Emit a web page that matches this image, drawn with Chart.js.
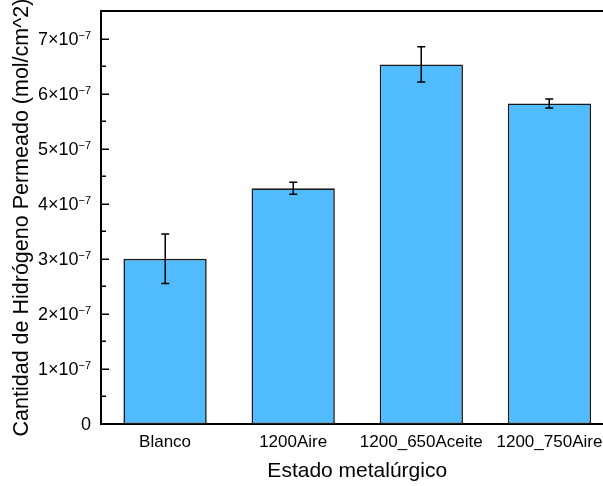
<!DOCTYPE html>
<html>
<head>
<meta charset="utf-8">
<script src="https://cdn.jsdelivr.net/npm/chart.js@4"></script>
<style>
    html, body { margin: 0; padding: 0; background: #fff; overflow: hidden; }
    #wrap { width: 620px; height: 486px; }
</style>
</head>
<body>
<div id="wrap"><canvas id="chart"></canvas></div>
<script>
// ################ data ################
const categories = ["Blanco", "1200Aire", "1200_650Aceite", "1200_750Aire"];
const values = [3.0e-7, 4.28e-7, 6.53e-7, 5.82e-7];
const errors = [0.45e-7, 0.11e-7, 0.32e-7, 0.08e-7];

const yTickValues = [0, 1e-7, 2e-7, 3e-7, 4e-7, 5e-7, 6e-7, 7e-7];
const yTickLabels = ["0", "1×10", "2×10", "3×10", "4×10", "5×10", "6×10", "7×10"];
const yTickExps = ["", "−7", "−7", "−7", "−7", "−7", "−7", "−7"];
const yMinorValues = [0.5e-7, 1.5e-7, 2.5e-7, 3.5e-7, 4.5e-7, 5.5e-7, 6.5e-7, 7.5e-7];

const FONT = "'Liberation Sans', Arial, sans-serif";

// ################ frame, ticks, labels, error bars ################
const framePlugin = {
    id: "frame",
    afterDatasetsDraw(chart) {
        const ctx = chart.ctx;
        const y = chart.scales.y;
        const x = chart.scales.x;
        ctx.save();
        ctx.strokeStyle = "#000";
        ctx.lineWidth = 1.5;
        values.forEach((v, i) => {
            const cx = Math.round(x.getPixelForValue(i)) + 0.25;
            const top = y.getPixelForValue(v + errors[i]);
            const bot = y.getPixelForValue(v - errors[i]);
            ctx.beginPath();
            ctx.moveTo(cx, top);
            ctx.lineTo(cx, bot);
            ctx.moveTo(cx - 4, top);
            ctx.lineTo(cx + 4, top);
            ctx.moveTo(cx - 4, bot);
            ctx.lineTo(cx + 4, bot);
            ctx.stroke();
        });
        ctx.restore();
    },
    afterDraw(chart) {
        const ctx = chart.ctx;
        const area = chart.chartArea;
        const y = chart.scales.y;
        ctx.save();
        ctx.strokeStyle = "#000";
        // top border
        ctx.lineWidth = 2;
        ctx.beginPath();
        ctx.moveTo(area.left, area.top);
        ctx.lineTo(area.right + 2, area.top);
        ctx.stroke();
        // inward ticks
        ctx.lineWidth = 1.5;
        yTickValues.forEach((v) => {
            const py = Math.round(y.getPixelForValue(v)) + 0.25;
            ctx.beginPath();
            ctx.moveTo(area.left, py);
            ctx.lineTo(area.left + 8, py);
            ctx.stroke();
        });
        yMinorValues.forEach((v) => {
            const py = Math.round(y.getPixelForValue(v)) + 0.25;
            ctx.beginPath();
            ctx.moveTo(area.left, py);
            ctx.lineTo(area.left + 5, py);
            ctx.stroke();
        });
        // tick labels with superscript exponent
        ctx.fillStyle = "#000";
        ctx.textAlign = "right";
        const rightX = area.left - 10;
        yTickValues.forEach((v, i) => {
            const py = y.getPixelForValue(v);
            let xr = rightX;
            if (yTickExps[i]) {
                ctx.font = "11px " + FONT;
                ctx.textBaseline = "alphabetic";
                ctx.fillText(yTickExps[i], xr, py + 0.5);
                xr -= ctx.measureText(yTickExps[i]).width;
            }
            ctx.font = "18px " + FONT;
            ctx.textBaseline = "middle";
            ctx.fillText(yTickLabels[i], xr, py + 1);
        });
        ctx.restore();
    },
};

const ctx = document.getElementById("chart").getContext("2d");
const chart = new Chart(ctx, {
    type: "bar",
    data: {
        labels: categories,
        datasets: [
            {
                label: "Hidrógeno",
                data: values,
                backgroundColor: "#50BBFF",
                borderColor: "#1a1a1a",
                borderWidth: 1.6,
                borderSkipped: false,
                barPercentage: 0.65,
                categoryPercentage: 1,
            },
        ],
    },
    options: {
        responsive: true,
        maintainAspectRatio: false,
        animation: false,
        layout: {
            padding: { top: 11, right: 6.5, left: 0, bottom: 0 },
        },
        plugins: {
            legend: { display: false },
            tooltip: { enabled: false },
        },
        scales: {
            x: {
                grid: { display: false, drawTicks: false },
                border: { display: true, color: "#000", width: 2 },
                ticks: {
                    padding: 8,
                    color: "#000",
                    font: { family: FONT, size: 17 },
                    maxRotation: 0,
                    autoSkip: false,
                },
                title: {
                    display: true,
                    text: "Estado metalúrgico",
                    color: "#000",
                    font: { family: FONT, size: 21 },
                    padding: { top: 0, bottom: 2 },
                },
                afterFit(scale) {
                    scale.height = 62;
                },
            },
            y: {
                min: 0,
                max: 7.5e-7,
                grid: { display: false, drawTicks: false },
                border: { display: true, color: "#000", width: 2 },
                ticks: { display: false, stepSize: 1e-7 },
                title: {
                    display: true,
                    text: "Cantidad de Hidrógeno Permeado (mol/cm^2)",
                    color: "#000",
                    font: { family: FONT, size: 21.5 },
                    padding: { top: 9, bottom: 0 },
                },
                afterFit(scale) {
                    scale.width = 101;
                },
            },
        },
    },
    plugins: [framePlugin],
});
</script>
</body>
</html>
